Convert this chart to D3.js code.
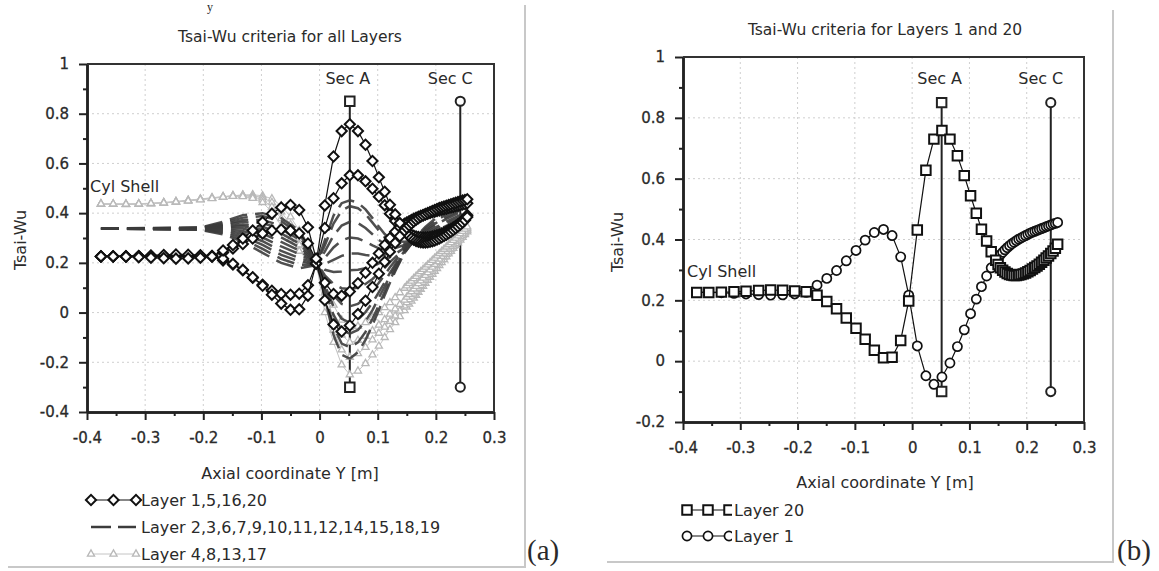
<!DOCTYPE html>
<html>
<head>
<meta charset="utf-8">
<script src="https://cdn.jsdelivr.net/npm/d3@7"></script>
<style>
body { margin: 0; background: #fff; }
svg text { font-family: "DejaVu Sans", sans-serif; fill: #2a2a2a; }
</style>
</head>
<body>
<svg id="fig" width="1159" height="571"></svg>
<script>
// node positions along the axis, shared by the marked layers
var meshY = [-0.376, -0.355, -0.333, -0.311, -0.290, -0.268, -0.247, -0.226, -0.205, -0.185,
  -0.166, -0.149, -0.132, -0.115, -0.098, -0.082, -0.066, -0.050, -0.035, -0.020, -0.006,
  0.009, 0.024, 0.038, 0.052, 0.066, 0.079, 0.091, 0.102, 0.112, 0.121, 0.130, 0.138, 0.146,
  0.150, 0.154, 0.158, 0.162, 0.166, 0.170, 0.174, 0.178, 0.182, 0.186, 0.190, 0.194, 0.198,
  0.202, 0.206, 0.210, 0.214, 0.218, 0.222, 0.226, 0.230, 0.234, 0.238, 0.242, 0.246, 0.250, 0.254];

var layer1 = [0.226, 0.226, 0.225, 0.223, 0.221, 0.219, 0.217, 0.218, 0.221, 0.226,
  0.250, 0.272, 0.298, 0.330, 0.364, 0.398, 0.423, 0.433, 0.413, 0.343, 0.217,
  0.050, -0.048, -0.076, -0.052, -0.006, 0.048, 0.103, 0.156, 0.204, 0.245, 0.280, 0.307, 0.330,
  0.341, 0.350, 0.358, 0.366, 0.373, 0.380, 0.386, 0.391, 0.396, 0.401, 0.405, 0.409, 0.413,
  0.417, 0.421, 0.424, 0.427, 0.430, 0.433, 0.436, 0.439, 0.442, 0.445, 0.448, 0.451, 0.453, 0.456];

var layer20 = [0.226, 0.226, 0.227, 0.228, 0.230, 0.232, 0.234, 0.233, 0.231, 0.228,
  0.217, 0.196, 0.172, 0.142, 0.108, 0.072, 0.036, 0.011, 0.013, 0.068, 0.198,
  0.431, 0.628, 0.730, 0.758, 0.730, 0.675, 0.610, 0.544, 0.486, 0.434, 0.395, 0.360, 0.332,
  0.318, 0.307, 0.299, 0.293, 0.288, 0.285, 0.283, 0.282, 0.282, 0.283, 0.285, 0.287, 0.290,
  0.294, 0.298, 0.303, 0.308, 0.313, 0.319, 0.325, 0.332, 0.339, 0.346, 0.354, 0.362, 0.371, 0.384];

var layer5 = [0.227, 0.227, 0.226, 0.226, 0.225, 0.225, 0.224, 0.225, 0.226, 0.228,
  0.242, 0.258, 0.276, 0.298, 0.318, 0.330, 0.334, 0.330, 0.318, 0.278, 0.212,
  0.120, 0.075, 0.068, 0.085, 0.118, 0.160, 0.200, 0.238, 0.272, 0.300, 0.325, 0.343, 0.357,
  0.362, 0.367, 0.372, 0.377, 0.381, 0.385, 0.389, 0.392, 0.395, 0.398, 0.401, 0.404, 0.406,
  0.409, 0.411, 0.414, 0.416, 0.418, 0.421, 0.423, 0.425, 0.428, 0.430, 0.432, 0.435, 0.437, 0.440];

var layer16 = [0.226, 0.226, 0.227, 0.227, 0.228, 0.229, 0.230, 0.229, 0.228, 0.226,
  0.210, 0.193, 0.170, 0.140, 0.112, 0.088, 0.075, 0.072, 0.076, 0.110, 0.195,
  0.340, 0.460, 0.520, 0.552, 0.552, 0.528, 0.498, 0.466, 0.432, 0.398, 0.368, 0.345, 0.330,
  0.324, 0.318, 0.313, 0.309, 0.306, 0.304, 0.303, 0.302, 0.302, 0.303, 0.304, 0.306, 0.308,
  0.311, 0.314, 0.318, 0.322, 0.326, 0.331, 0.336, 0.342, 0.348, 0.355, 0.362, 0.370, 0.379, 0.392];

var layer4 = [0.437, 0.436, 0.436, 0.437, 0.439, 0.442, 0.446, 0.451, 0.456, 0.461,
  0.466, 0.470, 0.473, 0.474, 0.470, 0.458, 0.430, 0.385, 0.330, 0.270, 0.205,
  0.000, -0.120, -0.210, -0.250, -0.235, -0.205, -0.170, -0.135, -0.100, -0.068, -0.040, -0.016, 0.008,
  0.022, 0.034, 0.046, 0.058, 0.070, 0.082, 0.094, 0.106, 0.118, 0.130, 0.142, 0.154, 0.166,
  0.177, 0.189, 0.201, 0.213, 0.224, 0.236, 0.247, 0.259, 0.270, 0.281, 0.292, 0.303, 0.314, 0.325];

var layer8 = [0.438, 0.437, 0.437, 0.438, 0.440, 0.443, 0.447, 0.452, 0.457, 0.462,
  0.466, 0.470, 0.472, 0.471, 0.463, 0.443, 0.405, 0.355, 0.300, 0.248, 0.200,
  0.050, -0.070, -0.150, -0.180, -0.165, -0.140, -0.110, -0.083, -0.058, -0.035, -0.013, 0.007, 0.027,
  0.040, 0.052, 0.063, 0.075, 0.086, 0.098, 0.109, 0.121, 0.132, 0.144, 0.155, 0.167, 0.178,
  0.190, 0.201, 0.212, 0.223, 0.234, 0.245, 0.256, 0.267, 0.278, 0.289, 0.300, 0.311, 0.321, 0.332];

var layer13 = [0.436, 0.436, 0.435, 0.436, 0.438, 0.441, 0.445, 0.450, 0.455, 0.460,
  0.465, 0.469, 0.470, 0.466, 0.454, 0.425, 0.378, 0.325, 0.272, 0.228, 0.198,
  0.080, -0.020, -0.090, -0.120, -0.112, -0.095, -0.073, -0.050, -0.028, -0.006, 0.015, 0.033, 0.050,
  0.062, 0.073, 0.084, 0.095, 0.106, 0.117, 0.128, 0.139, 0.150, 0.161, 0.172, 0.183, 0.194,
  0.205, 0.215, 0.226, 0.236, 0.246, 0.256, 0.266, 0.276, 0.286, 0.296, 0.306, 0.317, 0.327, 0.338];

var layer17 = [0.437, 0.437, 0.436, 0.437, 0.439, 0.441, 0.445, 0.449, 0.454, 0.459,
  0.465, 0.468, 0.467, 0.460, 0.443, 0.405, 0.350, 0.295, 0.247, 0.210, 0.195,
  0.110, 0.030, -0.030, -0.060, -0.055, -0.040, -0.020, 0.000, 0.020, 0.040, 0.060, 0.080, 0.098,
  0.108, 0.118, 0.127, 0.137, 0.146, 0.156, 0.165, 0.174, 0.183, 0.192, 0.201, 0.210, 0.219,
  0.228, 0.237, 0.246, 0.255, 0.264, 0.273, 0.282, 0.291, 0.300, 0.309, 0.318, 0.327, 0.336, 0.345];

// dashed layers only need a coarser set of nodes
var dashMesh = [-0.376, -0.205, -0.166, -0.132, -0.098, -0.066, -0.035, -0.006, 0.009, 0.024, 0.038, 0.052, 0.066,
  0.079, 0.091, 0.102, 0.112, 0.121, 0.130, 0.146, 0.164, 0.182, 0.200, 0.218, 0.236, 0.254];
var layer2 = [0.338, 0.342, 0.365, 0.392, 0.400, 0.380, 0.330, 0.215, 0.060, -0.090, -0.170, -0.185, -0.160,
  -0.110, -0.050, 0.010, 0.070, 0.120, 0.165, 0.240, 0.300, 0.345, 0.380, 0.405, 0.425, 0.440];
var layer3 = [0.338, 0.341, 0.360, 0.382, 0.388, 0.368, 0.318, 0.212, 0.075, -0.055, -0.125, -0.140, -0.120,
  -0.078, -0.025, 0.030, 0.085, 0.132, 0.172, 0.240, 0.295, 0.337, 0.370, 0.395, 0.415, 0.432];
var layer6 = [0.338, 0.340, 0.355, 0.372, 0.372, 0.350, 0.305, 0.210, 0.095, -0.010, -0.070, -0.085, -0.070,
  -0.035, 0.010, 0.060, 0.105, 0.148, 0.185, 0.245, 0.292, 0.330, 0.360, 0.385, 0.405, 0.423];
var layer7 = [0.338, 0.340, 0.352, 0.364, 0.360, 0.336, 0.294, 0.208, 0.110, 0.025, -0.025, -0.040, -0.028,
  0.002, 0.040, 0.082, 0.122, 0.160, 0.193, 0.248, 0.290, 0.325, 0.353, 0.377, 0.397, 0.415];
var layer9 = [0.338, 0.339, 0.347, 0.354, 0.345, 0.318, 0.278, 0.205, 0.130, 0.070, 0.035, 0.025, 0.035,
  0.058, 0.088, 0.120, 0.152, 0.182, 0.208, 0.252, 0.288, 0.318, 0.343, 0.366, 0.386, 0.405];
var layer10 = [0.338, 0.339, 0.344, 0.347, 0.333, 0.302, 0.264, 0.203, 0.150, 0.115, 0.098, 0.095, 0.100,
  0.115, 0.135, 0.158, 0.180, 0.203, 0.222, 0.256, 0.285, 0.312, 0.335, 0.357, 0.377, 0.396];
var layer11 = [0.338, 0.338, 0.340, 0.338, 0.318, 0.284, 0.250, 0.201, 0.172, 0.163, 0.165, 0.170, 0.172,
  0.178, 0.187, 0.198, 0.210, 0.223, 0.236, 0.260, 0.283, 0.306, 0.328, 0.349, 0.370, 0.390];
var layer12 = [0.338, 0.337, 0.335, 0.328, 0.302, 0.266, 0.236, 0.199, 0.195, 0.212, 0.228, 0.238, 0.238,
  0.232, 0.228, 0.228, 0.232, 0.240, 0.248, 0.266, 0.283, 0.302, 0.322, 0.342, 0.362, 0.382];
var layer14 = [0.338, 0.336, 0.330, 0.318, 0.287, 0.248, 0.220, 0.197, 0.220, 0.262, 0.290, 0.302, 0.298,
  0.285, 0.270, 0.258, 0.252, 0.255, 0.260, 0.272, 0.285, 0.300, 0.318, 0.337, 0.357, 0.377];
var layer15 = [0.338, 0.335, 0.325, 0.307, 0.272, 0.232, 0.206, 0.195, 0.245, 0.310, 0.350, 0.365, 0.360,
  0.340, 0.315, 0.292, 0.276, 0.270, 0.270, 0.276, 0.286, 0.300, 0.316, 0.334, 0.354, 0.374];
var layer18 = [0.338, 0.334, 0.320, 0.296, 0.256, 0.216, 0.192, 0.193, 0.270, 0.358, 0.410, 0.428, 0.420,
  0.396, 0.362, 0.330, 0.303, 0.288, 0.282, 0.282, 0.288, 0.300, 0.315, 0.333, 0.352, 0.372];
var layer19 = [0.338, 0.333, 0.315, 0.285, 0.240, 0.200, 0.178, 0.191, 0.290, 0.390, 0.440, 0.452, 0.442,
  0.415, 0.380, 0.345, 0.316, 0.298, 0.288, 0.285, 0.290, 0.300, 0.314, 0.331, 0.350, 0.370];

// section markers (Sec A, Sec C)
var secNames = ["Sec A", "Sec C"];
var secPosA = [0.052, 0.242];
var secRangeA = [-0.3, 0.85];
var secPosB = [0.0515, 0.242];
var secRangeB = [-0.1, 0.85];

var xTicks = [-0.4, -0.3, -0.2, -0.1, 0, 0.1, 0.2, 0.3];
var xMinor = [-0.35, -0.25, -0.15, -0.05, 0.05, 0.15, 0.25];
var yTicksA = [-0.4, -0.2, 0, 0.2, 0.4, 0.6, 0.8, 1];
var yMinorA = [-0.3, -0.1, 0.1, 0.3, 0.5, 0.7, 0.9];
var yTicksB = [-0.2, 0, 0.2, 0.4, 0.6, 0.8, 1];
var yMinorB = [-0.1, 0.1, 0.3, 0.5, 0.7, 0.9];

var svg = d3.select("#fig");
var fmt = function(d) { return String(+d.toFixed(1)); };

function panel(c) {
  var x = d3.scaleLinear().domain([-0.4, 0.3]).range([c.left, c.right]);
  var y = d3.scaleLinear().domain(c.yDomain).range([c.bottom, c.top]);
  var g = svg.append("g");

  // dotted grid
  g.selectAll(null).data(xTicks.slice(1, -1)).enter().append("line")
    .attr("x1", d => x(d)).attr("x2", d => x(d))
    .attr("y1", c.top).attr("y2", c.bottom)
    .attr("stroke", "#cfcfcf").attr("stroke-dasharray", "2,3");
  g.selectAll(null).data(c.yTicks.slice(1, -1)).enter().append("line")
    .attr("x1", c.left).attr("x2", c.right)
    .attr("y1", d => y(d)).attr("y2", d => y(d))
    .attr("stroke", "#cfcfcf").attr("stroke-dasharray", "2,3");

  // axes
  var ax = [
    g.append("g").attr("transform", "translate(0," + c.bottom + ")")
      .call(d3.axisBottom(x).tickValues(xMinor).tickSize(4).tickSizeOuter(0).tickFormat("")),
    g.append("g").attr("transform", "translate(0," + c.bottom + ")")
      .call(d3.axisBottom(x).tickValues(xTicks).tickSize(8).tickSizeOuter(0).tickPadding(12).tickFormat(fmt)),
    g.append("g").attr("transform", "translate(" + c.left + ",0)")
      .call(d3.axisLeft(y).tickValues(c.yMinor).tickSize(4).tickSizeOuter(0).tickFormat("")),
    g.append("g").attr("transform", "translate(" + c.left + ",0)")
      .call(d3.axisLeft(y).tickValues(c.yTicks).tickSize(8).tickSizeOuter(0).tickPadding(10).tickFormat(fmt))
  ];
  ax.forEach(function(a) {
    a.select(".domain").attr("stroke", "#222").attr("stroke-width", 2.5);
    a.selectAll(".tick line").attr("stroke", "#222").attr("stroke-width", 2);
    a.selectAll(".tick text").style("font-family", "DejaVu Sans").style("font-size", "15px")
      .attr("fill", "#2e2e2e").attr("stroke", "#2e2e2e").attr("stroke-width", 0.3);
  });
  // box
  g.append("path")
    .attr("d", "M" + c.left + "," + c.top + "H" + c.right + "V" + c.bottom)
    .attr("fill", "none").attr("stroke", "#333").attr("stroke-width", 2);

  // titles
  g.append("text").attr("x", c.titleX).attr("y", c.titleY).attr("text-anchor", "middle")
    .attr("dy", "0.35em").style("font-size", "15.5px").text(c.title);
  g.append("text").attr("x", c.titleX).attr("y", c.xLabelY).attr("text-anchor", "middle")
    .attr("dy", "0.35em").style("font-size", "16px").text("Axial coordinate Y [m]");
  g.append("text").attr("transform", "translate(" + c.yLabelX + "," + c.yLabelY + ") rotate(-90)")
    .attr("text-anchor", "middle").attr("dy", "0.35em").style("font-size", "16px").text("Tsai-Wu");
  g.append("text").attr("x", c.cylX).attr("y", c.cylY).style("font-size", "16px").text("Cyl Shell");

  return { g: g, x: x, y: y };
}

function series(p, xs, ys, o) {
  var pts = xs.map(function(v, i) { return [v, ys[i]]; });
  p.g.append("path").datum(pts)
    .attr("d", d3.line().x(d => p.x(d[0])).y(d => p.y(d[1])))
    .attr("fill", "none").attr("stroke", o.line).attr("stroke-width", o.lw)
    .attr("stroke-dasharray", o.dash || null).attr("opacity", o.opacity || 1);
  if (!o.symbol) return;
  p.g.selectAll(null).data(pts).enter().append("path")
    .attr("transform", d => "translate(" + p.x(d[0]) + "," + p.y(d[1]) + ") rotate(" + (o.rot || 0) + ")")
    .attr("d", d3.symbol(o.symbol, o.size))
    .attr("fill", "#fff").attr("stroke", o.stroke).attr("stroke-width", o.sw);
}

function sections(p, pos, range) {
  pos.forEach(function(v, i) {
    p.g.append("line").attr("x1", p.x(v)).attr("x2", p.x(v))
      .attr("y1", p.y(range[0])).attr("y2", p.y(range[1]))
      .attr("stroke", "#222").attr("stroke-width", 2);
    range.forEach(function(r) {
      p.g.append("path")
        .attr("transform", "translate(" + p.x(v) + "," + p.y(r) + ")")
        .attr("d", d3.symbol(i === 0 ? d3.symbolSquare : d3.symbolCircle, i === 0 ? 90 : 66))
        .attr("fill", "#fff").attr("stroke", "#222").attr("stroke-width", 2);
    });
    p.g.append("text").attr("x", p.x(v) + (i === 0 ? -2 : -10)).attr("y", 84)
      .attr("text-anchor", "middle").style("font-size", "16px").text(secNames[i]);
  });
}

// ---------- panel (a)
var pa = panel({ left: 87, right: 494, top: 64, bottom: 412, yDomain: [-0.4, 1],
  yTicks: yTicksA, yMinor: yMinorA, title: "Tsai-Wu criteria for all Layers",
  titleX: 290, titleY: 37, xLabelY: 473, yLabelX: 20, yLabelY: 240, cylX: 90, cylY: 192 });

sections(pa, secPosA, secRangeA);

var triStyle = { line: "#c4c4c4", lw: 1, symbol: d3.symbolTriangle, size: 22, stroke: "#b8b8b8", sw: 1.3 };
[layer4, layer8, layer13, layer17].forEach(function(l) { series(pa, meshY, l, triStyle); });

var dashStyle = { line: "#3c3c3c", lw: 2.5, dash: "18,8", opacity: 0.9 };
[layer2, layer3, layer6, layer7, layer9, layer10, layer11, layer12, layer14, layer15, layer18, layer19]
  .forEach(function(l) { series(pa, dashMesh, l, dashStyle); });

var diaStyle = { line: "#111", lw: 1.2, symbol: d3.symbolSquare, size: 52, rot: 45, stroke: "#111", sw: 2 };
[layer16, layer5, layer20, layer1].forEach(function(l) { series(pa, meshY, l, diaStyle); });

// legend (a)
var legA = pa.g.append("g");
legA.append("line").attr("x1", 91).attr("x2", 136).attr("y1", 500).attr("y2", 500).attr("stroke", "#111").attr("stroke-width", 1.2);
[91, 113.5, 136].forEach(function(cx) {
  legA.append("path").attr("transform", "translate(" + cx + ",500) rotate(45)")
    .attr("d", d3.symbol(d3.symbolSquare, 52)).attr("fill", "#fff").attr("stroke", "#111").attr("stroke-width", 2);
});
legA.append("line").attr("x1", 91).attr("x2", 136).attr("y1", 527).attr("y2", 527)
  .attr("stroke", "#3c3c3c").attr("stroke-width", 2.5).attr("stroke-dasharray", "20,7");
legA.append("line").attr("x1", 91).attr("x2", 136).attr("y1", 554).attr("y2", 554).attr("stroke", "#c4c4c4");
[91, 113.5, 136].forEach(function(cx) {
  legA.append("path").attr("transform", "translate(" + cx + ",554)")
    .attr("d", d3.symbol(d3.symbolTriangle, 22)).attr("fill", "#fff").attr("stroke", "#b8b8b8").attr("stroke-width", 1.3);
});
["Layer 1,5,16,20", "Layer 2,3,6,7,9,10,11,12,14,15,18,19", "Layer 4,8,13,17"].forEach(function(t, i) {
  legA.append("text").attr("x", 141).attr("y", 500 + i * 27).attr("dy", "0.35em").style("font-size", "16px").text(t);
});

// ---------- panel (b)
var pb = panel({ left: 683, right: 1084, top: 57, bottom: 422, yDomain: [-0.2, 1],
  yTicks: yTicksB, yMinor: yMinorB, title: "Tsai-Wu criteria for Layers 1 and 20",
  titleX: 885, titleY: 30, xLabelY: 482, yLabelX: 617, yLabelY: 242, cylX: 687, cylY: 277 });

sections(pb, secPosB, secRangeB);
series(pb, meshY, layer1, { line: "#111", lw: 1.2, symbol: d3.symbolCircle, size: 66, stroke: "#111", sw: 1.7 });
series(pb, meshY, layer20, { line: "#111", lw: 1.2, symbol: d3.symbolSquare, size: 90, stroke: "#111", sw: 2 });

// legend (b)
var legB = pb.g.append("g");
[[510, d3.symbolSquare, 90, 2, "Layer 20"], [536, d3.symbolCircle, 66, 1.7, "Layer 1"]].forEach(function(r) {
  legB.append("line").attr("x1", 687).attr("x2", 729).attr("y1", r[0]).attr("y2", r[0]).attr("stroke", "#111").attr("stroke-width", 1.2);
  [687, 708, 729].forEach(function(cx) {
    legB.append("path").attr("transform", "translate(" + cx + "," + r[0] + ")")
      .attr("d", d3.symbol(r[1], r[2])).attr("fill", "#fff").attr("stroke", "#111").attr("stroke-width", r[3]);
  });
  legB.append("rect").attr("x", 732).attr("y", r[0] - 10).attr("width", 80).attr("height", 20).attr("fill", "#fff");
  legB.append("text").attr("x", 734).attr("y", r[0]).attr("dy", "0.35em").style("font-size", "16px").text(r[4]);
});

// page frame lines and panel letters
svg.append("path").attr("d", "M8,567H525V5").attr("fill", "none").attr("stroke", "#c8c8c8").attr("stroke-width", 2);
svg.append("path").attr("d", "M607,562H1113V10").attr("fill", "none").attr("stroke", "#c8c8c8").attr("stroke-width", 2);
svg.append("text").attr("x", 527).attr("y", 560).style("font-family", "Liberation Serif").style("font-size", "29px").attr("fill", "#000").text("(a)");
svg.append("text").attr("x", 1117).attr("y", 560).style("font-family", "Liberation Serif").style("font-size", "29px").attr("fill", "#000").text("(b)");
// fragment of the line of text above the figure
svg.append("text").attr("x", 207).attr("y", 11).style("font-family", "Liberation Serif").style("font-size", "12px").attr("fill", "#000").text("y");
</script>
</body>
</html>
